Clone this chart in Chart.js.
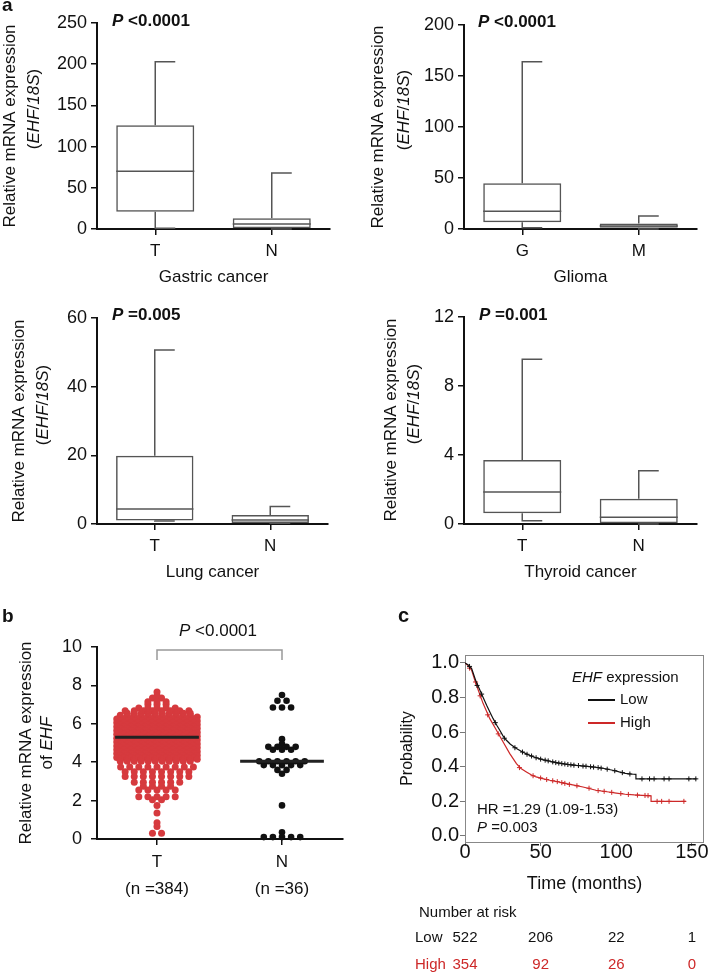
<!DOCTYPE html>
<html>
<head>
<meta charset="utf-8">
<script src="https://cdn.jsdelivr.net/npm/chart.js@4.4.1/dist/chart.umd.min.js"></script>
<style>
  body { margin: 0; background: #fff; }
  #page { position: relative; width: 709px; height: 975px; overflow: hidden; }
  canvas { position: absolute; }
</style>
</head>
<body>
<div id="page">
  <canvas id="gastric" width="350" height="300" style="left:0;top:0"></canvas>
  <canvas id="glioma" width="359" height="300" style="left:350px;top:0"></canvas>
  <canvas id="lung" width="350" height="300" style="left:0;top:300px"></canvas>
  <canvas id="thyroid" width="359" height="300" style="left:350px;top:300px"></canvas>
  <canvas id="scatter" width="350" height="315" style="left:0;top:600px"></canvas>
  <canvas id="survival" width="359" height="375" style="left:350px;top:600px"></canvas>
</div>
<script>
const FONT = '"Liberation Sans", Arial, Helvetica, sans-serif';
Chart.defaults.font.family = FONT;
Chart.defaults.color = '#111';
Chart.defaults.animation = false;

// panel a: box plots as [min, Q1, median, Q3, max]
const gastricT = [1, 21, 70, 126, 203];
const gastricN = [0, 1, 6, 13, 68];
const gliomaG = [1.3, 6.5, 17.5, 44.8, 164];
const gliomaM = [0, 1.3, 3, 5.5, 12.7];
const lungT = [0.9, 1.0, 4.4, 19.9, 50.7];
const lungN = [0.2, 0.3, 1.2, 2.6, 5.1];
const thyroidT = [0.19, 0.62, 1.86, 3.71, 9.55];
const thyroidN = [0, 0.05, 0.39, 1.47, 3.09];

// panel b: dot rows as [value, number of dots]
const tRows = [
  [7.65, 1], [7.45, 1], [7.35, 2], [7.15, 3], [7.0, 3], [6.82, 5], [6.68, 8],
  [6.55, 10], [6.45, 11], [6.35, 12], [6.25, 12], [6.15, 12], [6.05, 12], [5.95, 12],
  [5.85, 12], [5.75, 12], [5.65, 12], [5.55, 12], [5.45, 12], [5.35, 12], [5.25, 12],
  [5.15, 12], [5.05, 12], [4.95, 12], [4.85, 12], [4.75, 12], [4.65, 12], [4.55, 12],
  [4.45, 12], [4.35, 12], [4.25, 12], [4.15, 12], [4.05, 11],
  [3.75, 9], [3.5, 8], [3.25, 8], [2.95, 6], [2.75, 4], [2.55, 5], [2.2, 5], [2.05, 2],
  [1.75, 1], [1.35, 1], [0.85, 1], [0.65, 1], [0.3, 2]
];
const nRows = [
  [7.5, 1], [7.2, 2], [6.85, 3], [5.2, 1], [4.95, 1], [4.8, 4], [4.65, 3],
  [4.05, 6], [3.85, 5], [3.6, 2], [3.4, 1], [1.75, 1], [0.35, 1], [0.1, 5]
];
const tMedian = 5.3;
const nMedian = 4.05;
const groupLabels = [['T', '(n =384)'], ['N', '(n =36)']];
const bracket = [[1, 9.32], [1, 9.84], [2, 9.84], [2, 9.32]];

// panel c: Kaplan-Meier curves
const lowT = [0, 2, 4.4, 7, 9.9, 12, 14.3, 16.5, 18.6, 21, 23, 25, 27.4, 30, 34, 38, 42.8, 47, 51.5, 56, 60.3, 66, 73.5, 80, 86.6, 92, 97.6, 102, 106, 110, 113, 113, 153];
const lowS = [1, 0.99, 0.967, 0.9, 0.842, 0.8, 0.755, 0.715, 0.678, 0.64, 0.611, 0.58, 0.553, 0.53, 0.505, 0.485, 0.466, 0.452, 0.441, 0.432, 0.424, 0.416, 0.408, 0.403, 0.397, 0.39, 0.38, 0.37, 0.362, 0.358, 0.356, 0.33, 0.33];
const highT = [0, 2, 4.4, 6.5, 8.8, 12, 16.4, 20.8, 25.2, 29.6, 34, 37, 40.6, 44, 47, 52, 56, 62, 67, 72, 78, 86.6, 95, 100, 106, 112, 117, 123, 123, 146];
const highS = [1, 0.985, 0.958, 0.9, 0.842, 0.765, 0.678, 0.611, 0.543, 0.476, 0.418, 0.39, 0.37, 0.352, 0.341, 0.33, 0.322, 0.312, 0.302, 0.294, 0.283, 0.264, 0.254, 0.248, 0.241, 0.237, 0.235, 0.232, 0.2, 0.2];
const lowCensor = [[3, 0.98], [8, 0.87], [11, 0.82], [20, 0.655], [26, 0.565], [33, 0.51], [38, 0.485], [41, 0.472], [44, 0.462], [47, 0.452], [50, 0.444], [53, 0.438], [55, 0.434], [58, 0.428], [60, 0.424], [62, 0.421], [64, 0.418], [66, 0.416], [68, 0.413], [70, 0.411], [72, 0.409], [75, 0.407], [78, 0.404], [80, 0.403], [83, 0.4], [85, 0.398], [88, 0.395], [90, 0.392], [94, 0.386], [99, 0.377], [104, 0.366], [109, 0.358], [117, 0.33], [122, 0.33], [125, 0.33], [131.6, 0.33], [134.9, 0.33], [148, 0.33], [152.6, 0.33]];
const highCensor = [[3, 0.97], [7, 0.89], [10, 0.81], [15, 0.7], [22, 0.59], [36, 0.395], [45, 0.348], [50, 0.335], [54, 0.326], [58, 0.319], [61, 0.314], [64, 0.308], [66, 0.304], [69, 0.298], [74, 0.29], [82, 0.276], [88, 0.262], [92, 0.258], [97, 0.252], [103, 0.245], [108, 0.24], [114, 0.236], [119, 0.234], [121, 0.233], [127, 0.2], [130, 0.2], [134.9, 0.2], [144.7, 0.2]];
const timeTicks = [0, 50, 100, 150];
const survTicks = [0, 0.2, 0.4, 0.6, 0.8, 1.0];
const riskTimes = [0, 50, 100, 150];
const riskLow = [522, 206, 22, 1];
const riskHigh = [354, 92, 26, 0];

const RED = 'rgb(214,58,62)';
const KMRED = 'rgb(205,40,40)';

function f(size, style) {
  return (style ? style + ' ' : '') + size + 'px ' + FONT;
}

function drawRuns(ctx, it) {
  ctx.save();
  ctx.fillStyle = it.color || '#111';
  ctx.textBaseline = 'middle';
  ctx.textAlign = 'left';
  ctx.translate(it.x, it.y);
  if (it.rot) ctx.rotate(-Math.PI / 2);
  let w = 0;
  it.runs.forEach(r => { ctx.font = r[1]; w += ctx.measureText(r[0]).width; });
  let x = it.align === 'center' ? -w / 2 : (it.align === 'right' ? -w : 0);
  it.runs.forEach(r => {
    ctx.font = r[1];
    ctx.fillText(r[0], x, 0);
    x += ctx.measureText(r[0]).width;
  });
  ctx.restore();
}

function texts(items) {
  return {
    id: 'texts',
    afterDraw(chart) { items.forEach(it => drawRuns(chart.ctx, it)); }
  };
}

function whiskers(stats) {
  return {
    id: 'whiskers',
    afterDatasetsDraw(chart) {
      const ctx = chart.ctx, y = chart.scales.y;
      const bars = chart.getDatasetMeta(0).data;
      const py = v => y.getPixelForValue(v);
      ctx.save();
      ctx.strokeStyle = '#555';
      ctx.lineWidth = 1.5;
      stats.forEach((s, i) => {
        const cx = bars[i].x, half = bars[i].width / 2;
        ctx.beginPath();
        ctx.moveTo(cx, py(s[3])); ctx.lineTo(cx, py(s[4])); ctx.lineTo(cx + 20, py(s[4]));
        ctx.moveTo(cx, py(s[1])); ctx.lineTo(cx, py(s[0])); ctx.lineTo(cx + 20, py(s[0]));
        ctx.moveTo(cx - half, py(s[2])); ctx.lineTo(cx + half, py(s[2]));
        ctx.stroke();
      });
      ctx.restore();
    }
  };
}

function yTitleA(x1, y1, x2, y2) {
  return [
    { x: x1, y: y1, rot: true, align: 'center', runs: [['Relative mRNA expression', f(17)]] },
    { x: x2, y: y2, rot: true, align: 'center',
      runs: [['(', f(17)], ['EHF', f(17, 'italic')], ['/', f(17)], ['18S', f(17, 'italic')], [')', f(17)]] }
  ];
}

function pText(x, y, rest) {
  return { x: x, y: y, runs: [['P', f(17, 'italic bold')], [rest, f(17, 'bold')]] };
}

function boxChart(id, cats, stats, yMax, step, title, L) {
  new Chart(document.getElementById(id), {
    type: 'bar',
    data: {
      labels: cats,
      datasets: [{
        data: stats.map(s => [s[1], s[3]]),
        backgroundColor: 'rgba(255,255,255,0)',
        borderColor: '#555',
        borderWidth: 1.5,
        borderSkipped: false,
        barPercentage: 0.67,
        categoryPercentage: 1
      }]
    },
    options: {
      responsive: false,
      layout: { padding: { left: 0, right: L.right, top: L.top, bottom: 0 } },
      plugins: { legend: { display: false }, tooltip: { enabled: false } },
      scales: {
        x: {
          grid: { offset: false, drawOnChartArea: false, color: '#111', lineWidth: 1.5, tickLength: 6 },
          border: { color: '#111', width: 2 },
          ticks: { font: { size: 17 }, padding: 6 },
          title: { display: true, text: title, font: { size: 17 }, padding: { top: 0, bottom: L.titlePad } },
          afterFit: s => { s.height = L.xh; }
        },
        y: {
          min: 0,
          max: yMax,
          ticks: { stepSize: step, font: { size: 18 }, padding: 4 },
          grid: { drawOnChartArea: false, color: '#111', lineWidth: 1.5, tickLength: 6 },
          border: { color: '#111', width: 2 },
          afterFit: s => { s.width = L.yw; }
        }
      }
    },
    plugins: [whiskers(stats), texts(L.texts)]
  });
}

boxChart('gastric', ['T', 'N'], [gastricT, gastricN], 250, 50, 'Gastric cancer', {
  right: 20, top: 23, xh: 71, yw: 97, titlePad: 12,
  texts: [{ x: 2, y: 6, runs: [['a', f(19, 'bold')]] }, pText(112, 21, ' <0.0001')].concat(yTitleA(10, 126, 34.5, 109))
});
boxChart('glioma', ['G', 'M'], [gliomaG, gliomaM], 200, 50, 'Glioma', {
  right: 12, top: 25, xh: 71, yw: 114, titlePad: 12,
  texts: [pText(128, 22, ' <0.0001')].concat(yTitleA(28.5, 127, 54, 110))
});
boxChart('lung', ['T', 'N'], [lungT, lungN], 60, 20, 'Lung cancer', {
  right: 22, top: 18, xh: 76, yw: 97, titlePad: 17,
  texts: [pText(112, 15, ' =0.005')].concat(yTitleA(19.5, 121, 43, 105))
});
boxChart('thyroid', ['T', 'N'], [thyroidT, thyroidN], 12, 4, 'Thyroid cancer', {
  right: 12, top: 17, xh: 76, yw: 114, titlePad: 17,
  texts: [pText(129, 15, ' =0.001')].concat(yTitleA(41, 120, 64, 104))
});

// panel b
const dotStep = 0.056;
function swarm(rows, center) {
  const pts = [];
  rows.forEach((r, i) => {
    const v = r[0], n = r[1];
    const shift = n >= 10 ? (i % 2 ? 1 : -1) * dotStep / 4 : 0;
    const step = n >= 10 ? dotStep : dotStep * 1.3;
    for (let j = 0; j < n; j++) {
      pts.push({ x: center + (j - (n - 1) / 2) * step + shift, y: v });
    }
  });
  return pts;
}
const medHalf = 0.335;

new Chart(document.getElementById('scatter'), {
  type: 'scatter',
  data: {
    datasets: [
      { data: [{ x: 1 - medHalf, y: tMedian }, { x: 1 + medHalf, y: tMedian }], showLine: true, borderColor: '#222', borderWidth: 3, pointRadius: 0 },
      { data: [{ x: 2 - medHalf, y: nMedian }, { x: 2 + medHalf, y: nMedian }], showLine: true, borderColor: '#222', borderWidth: 3, pointRadius: 0 },
      { data: bracket.map(p => ({ x: p[0], y: p[1] })), showLine: true, borderColor: '#999', borderWidth: 1.5, pointRadius: 0 },
      { data: swarm(tRows, 1), pointRadius: 3.5, backgroundColor: RED, borderWidth: 0, clip: false },
      { data: swarm(nRows, 2), pointRadius: 3.3, backgroundColor: '#111', borderWidth: 0, clip: false }
    ]
  },
  options: {
    responsive: false,
    layout: { padding: { left: 0, right: 7, top: 47, bottom: 0 } },
    plugins: { legend: { display: false }, tooltip: { enabled: false } },
    scales: {
      x: {
        type: 'linear',
        min: 0.52,
        max: 2.488,
        afterBuildTicks: s => { s.ticks = [{ value: 1 }, { value: 2 }]; },
        ticks: { font: { size: 17, lineHeight: 1.6 }, padding: 4, callback: (v, i) => groupLabels[i] },
        grid: { drawOnChartArea: false, color: '#111', lineWidth: 1.5, tickLength: 6 },
        border: { color: '#111', width: 2 },
        afterFit: s => { s.height = 76; }
      },
      y: {
        min: 0,
        max: 10,
        ticks: { stepSize: 2, font: { size: 18 }, padding: 9 },
        grid: { drawOnChartArea: false, color: '#111', lineWidth: 1.5, tickLength: 6 },
        border: { color: '#111', width: 2 },
        afterFit: s => { s.width = 97; }
      }
    }
  },
  plugins: [texts([
    { x: 2, y: 17, runs: [['b', f(19, 'bold')]] },
    { x: 218, y: 31, align: 'center', runs: [['P', f(17, 'italic')], [' <0.0001', f(17)]] },
    { x: 26, y: 143, rot: true, align: 'center', runs: [['Relative mRNA expression', f(17)]] },
    { x: 47, y: 143, rot: true, align: 'center', runs: [['of ', f(17)], ['EHF', f(17, 'italic')]] }
  ])]
});

// panel c
const frame = {
  id: 'frame',
  beforeDatasetsDraw(chart) {
    const a = chart.chartArea, ctx = chart.ctx;
    ctx.save();
    ctx.strokeStyle = '#888';
    ctx.lineWidth = 1;
    ctx.strokeRect(a.left + 0.5, a.top + 0.5, a.right - a.left - 1, a.bottom - a.top);
    ctx.restore();
  }
};
const riskTable = {
  id: 'riskTable',
  afterDraw(chart) {
    const ctx = chart.ctx, x = chart.scales.x;
    ctx.save();
    ctx.font = f(15);
    ctx.textBaseline = 'middle';
    ctx.textAlign = 'center';
    riskTimes.forEach((t, i) => {
      const px = x.getPixelForValue(t);
      ctx.fillStyle = '#111';
      ctx.fillText(String(riskLow[i]), px, 338);
      ctx.fillStyle = KMRED;
      ctx.fillText(String(riskHigh[i]), px, 365);
    });
    ctx.restore();
  }
};
const legendLines = {
  id: 'legendLines',
  afterDraw(chart) {
    const ctx = chart.ctx;
    ctx.save();
    ctx.lineWidth = 2;
    ctx.strokeStyle = '#111';
    ctx.beginPath(); ctx.moveTo(238, 100); ctx.lineTo(265, 100); ctx.stroke();
    ctx.strokeStyle = KMRED;
    ctx.beginPath(); ctx.moveTo(238, 123); ctx.lineTo(265, 123); ctx.stroke();
    ctx.restore();
  }
};

new Chart(document.getElementById('survival'), {
  type: 'scatter',
  data: {
    datasets: [
      { data: lowT.map((t, i) => ({ x: t, y: lowS[i] })), showLine: true, borderColor: '#111', borderWidth: 1.2, pointRadius: 0 },
      { data: lowCensor.map(p => ({ x: p[0], y: p[1] })), pointStyle: 'cross', pointRadius: 2.5, borderColor: '#111', borderWidth: 1 },
      { data: highT.map((t, i) => ({ x: t, y: highS[i] })), showLine: true, borderColor: KMRED, borderWidth: 1.2, pointRadius: 0 },
      { data: highCensor.map(p => ({ x: p[0], y: p[1] })), pointStyle: 'cross', pointRadius: 2.5, borderColor: KMRED, borderWidth: 1 }
    ]
  },
  options: {
    responsive: false,
    layout: { padding: { left: 0, right: 4, top: 55, bottom: 73 } },
    plugins: { legend: { display: false }, tooltip: { enabled: false } },
    scales: {
      x: {
        min: 0,
        max: 158,
        afterBuildTicks: s => { s.ticks = timeTicks.map(v => ({ value: v })); },
        ticks: { font: { size: 20, lineHeight: 1 }, padding: -4 },
        grid: { drawOnChartArea: false, color: '#777', tickLength: 4 },
        border: { display: false },
        title: { display: true, text: 'Time (months)', font: { size: 18 }, padding: { top: 0, bottom: 7 } },
        afterFit: s => { s.height = 60; }
      },
      y: {
        min: -0.035,
        max: 1.046,
        afterBuildTicks: s => { s.ticks = survTicks.map(v => ({ value: v })); },
        ticks: { font: { size: 20 }, padding: 1, callback: v => Number(v).toFixed(1) },
        grid: { drawOnChartArea: false, color: '#777', tickLength: 5 },
        border: { display: false },
        title: { display: true, text: 'Probability', font: { size: 16 }, padding: { top: 48, bottom: 0 } },
        afterFit: s => { s.width = 115; }
      }
    }
  },
  plugins: [frame, legendLines, riskTable, texts([
    { x: 48, y: 16, runs: [['c', f(20, 'bold')]] },
    { x: 222, y: 78, runs: [['EHF', f(15, 'italic')], [' expression', f(15)]] },
    { x: 270, y: 100, runs: [['Low', f(15)]] },
    { x: 270, y: 123, runs: [['High', f(15)]] },
    { x: 127, y: 210, runs: [['HR =1.29 (1.09-1.53)', f(15)]] },
    { x: 127, y: 228, runs: [['P', f(15, 'italic')], [' =0.003', f(15)]] },
    { x: 69, y: 313, runs: [['Number at risk', f(15)]] },
    { x: 65, y: 338, runs: [['Low', f(15)]] },
    { x: 65, y: 365, color: KMRED, runs: [['High', f(15)]] }
  ])]
});
</script>
</body>
</html>
